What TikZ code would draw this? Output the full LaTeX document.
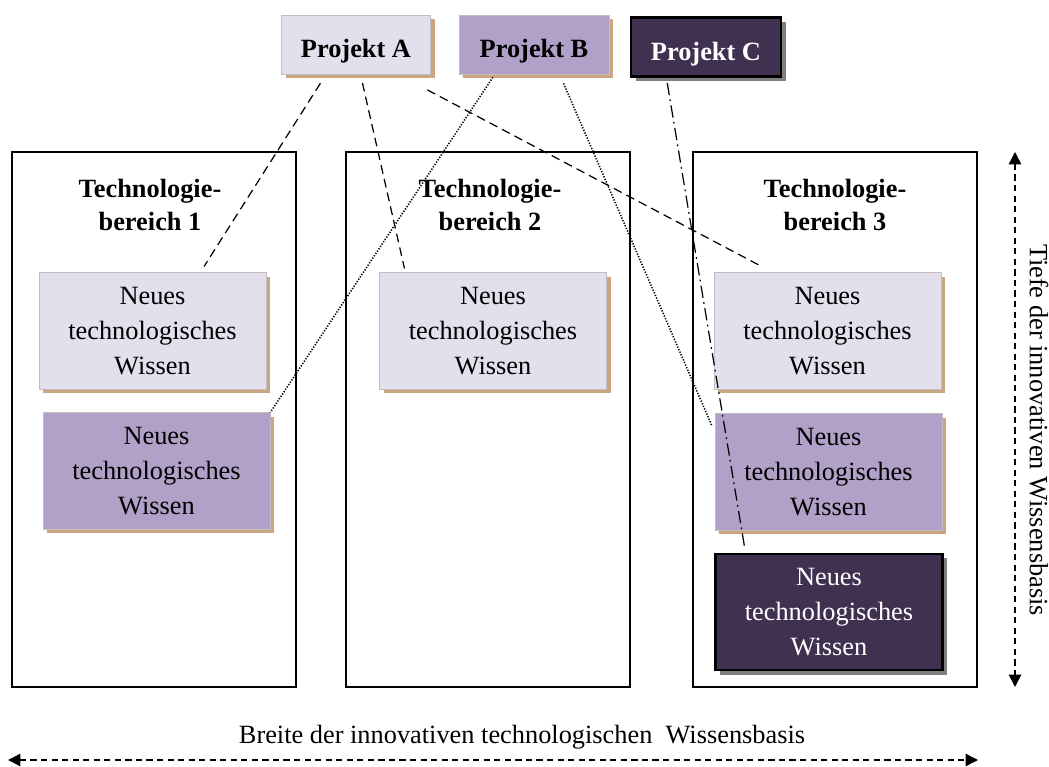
\documentclass[tikz,border=0pt]{standalone}
\usepackage{fontspec}
\setmainfont{Liberation Serif}
\usetikzlibrary{positioning,calc,shadows,arrows.meta}

\definecolor{hellila}{HTML}{E4DFEC}
\definecolor{mittellila}{HTML}{B1A0C7}
\definecolor{dunkellila}{HTML}{403151}
\definecolor{schattenbraun}{HTML}{CCA580}
\definecolor{randgrau}{HTML}{BFBFBF}

\tikzset{
  bereich/.style={draw, line width=0.9pt, minimum width=5.68cm, minimum height=10.7cm},
  titel/.style={align=center, font=\fontsize{15}{19.3}\selectfont\bfseries},
  wissen/.style={align=center, inner sep=0pt, minimum width=4.54cm, minimum height=2.33cm,
    font=\fontsize{15}{19.8}\selectfont},
  projekt/.style={inner sep=0pt, minimum width=2.98cm, minimum height=1.18cm,
    text height=15pt, text depth=0pt, font=\fontsize{15}{18}\selectfont\bfseries},
  braunschatten/.style={drop shadow={shadow xshift=2.3pt, shadow yshift=-2.3pt, fill=schattenbraun, opacity=1}},
  grauschatten/.style={drop shadow={shadow xshift=2.6pt, shadow yshift=-2.6pt, fill=gray, opacity=1}},
  hell/.style={fill=hellila, draw=randgrau, braunschatten},
  mittel/.style={fill=mittellila, draw=randgrau, braunschatten},
  dunkel/.style={fill=dunkellila, draw=black, line width=1.4pt, text=white, grauschatten},
  linieA/.style={line width=0.7pt, dash pattern=on 5pt off 3pt},
  linieB/.style={line width=0.9pt, dash pattern=on 0.7pt off 0.9pt},
  linieC/.style={line width=0.7pt, dash pattern=on 7pt off 2.5pt on 1pt off 2.5pt},
  masspfeil/.style={line width=0.8pt, dash pattern=on 3.5pt off 2.5pt,
    {Triangle[length=7pt,width=7pt]}-{Triangle[length=7pt,width=7pt]}},
}

\begin{document}
\begin{tikzpicture}[x=0.02cm,y=-0.02cm]
\useasboundingbox (0,0) rectangle (1049,767);

% Technologiebereiche
\node[bereich] (b1) at (154,419.5) {};
\node[bereich] (b2) at (488,419.5) {};
\node[bereich] (b3) at (835,419.5) {};
\node[titel] (t1) at (150,205) {Technologie-\\bereich 1};
\node[titel] (t2) at (490,205) {Technologie-\\bereich 2};
\node[titel] (t3) at (835,205) {Technologie-\\bereich 3};

% neues Wissen
\node[wissen,hell] (k11) at (152.5,331) {Neues\\technologisches\\Wissen};
\node[wissen,mittel] (k12) at (156.5,471) {Neues\\technologisches\\Wissen};
\node[wissen,hell] (k2) at (493,331) {Neues\\technologisches\\Wissen};
\node[wissen,hell] (k31) at (827.5,331) {Neues\\technologisches\\Wissen};
\node[wissen,mittel] (k32) at (828.5,472) {Neues\\technologisches\\Wissen};
\node[wissen,dunkel] (k33) at (829,612) {Neues\\technologisches\\Wissen};

% Projekte
\node[projekt,hell] (pA) at (356,44.5) {Projekt A};
\node[projekt,mittel,minimum width=3cm] (pB) at (534,44.5) {Projekt B};
\node[projekt,dunkel,minimum width=3cm] (pC) at (706,47) {Projekt C};

\draw[linieA,shorten <=6pt,shorten >=4pt] ($(pA.south west)!0.3!(pA.south east)$) -- ($(k11.north west)!0.71!(k11.north east)$);
\draw[linieA,shorten <=5pt,shorten >=2.3pt] ($(pA.south west)!0.53!(pA.south east)$) -- ($(k2.north west)!0.115!(k2.north east)$);
\draw[linieA,shorten <=19pt,shorten >=8.4pt] ($(pA.south west)!0.78!(pA.south east)$) -- ($(k31.north west)!0.26!(k31.north east)$);
\draw[linieB,shorten <=2pt] ($(pB.south west)!0.24!(pB.south east)$) -- (k12.north east);
\draw[linieB,shorten <=5.6pt,shorten >=4.3pt] ($(pB.south west)!0.67!(pB.south east)$) -- ($(k32.north west)!0.16!(k32.south west)$);
\draw[linieC,shorten <=3pt,shorten >=3pt] ($(pC.south west)!0.24!(pC.south east)$) -- ($(k33.north west)!0.136!(k33.north east)$);

% Achsen
\coordinate (tiefeoben) at (1015,152);
\coordinate (tiefeunten) at (1015,687);
\coordinate (breitelinks) at (8,760);
\coordinate (breiterechts) at (978,760);
\draw[masspfeil] (tiefeoben) -- (tiefeunten);
\draw[masspfeil] (breitelinks) -- (breiterechts);
\node[rotate=-90,font=\fontsize{15}{18}\selectfont] (tiefe) at (1039,430) {Tiefe der innovativen Wissensbasis};
\node[font=\fontsize{15}{18}\selectfont] (breite) at (522,737) {Breite der innovativen technologischen\ \ Wissensbasis};
\end{tikzpicture}
\end{document}
